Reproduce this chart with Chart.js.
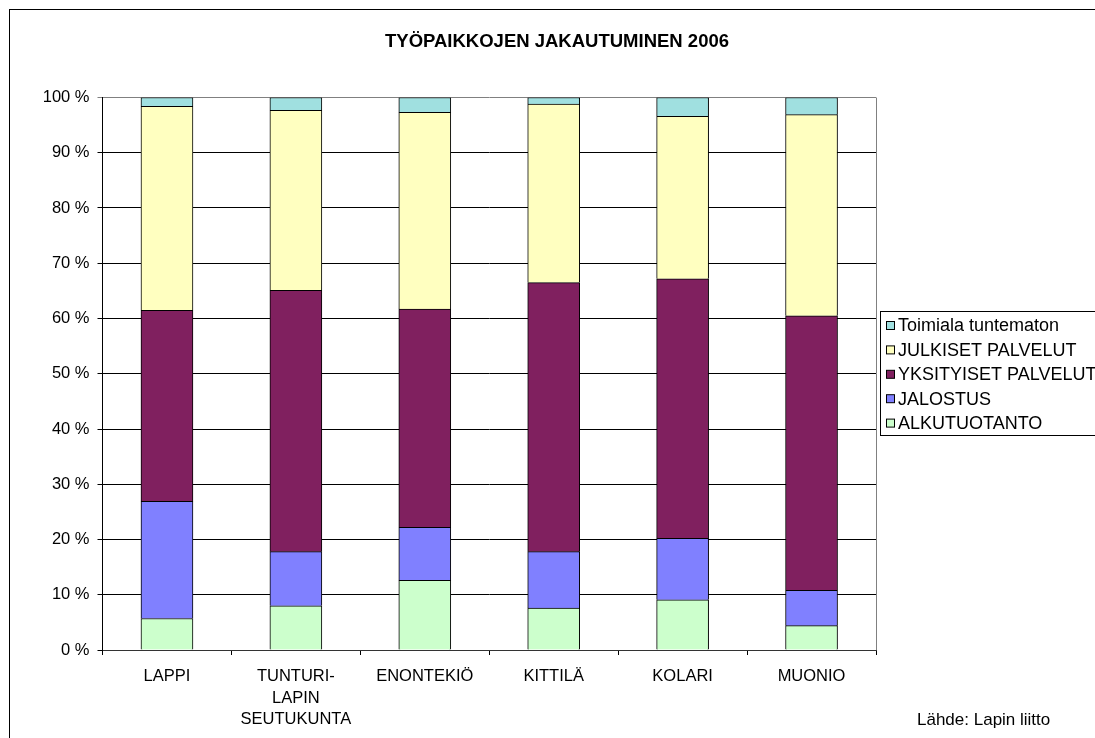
<!DOCTYPE html>
<html>
<head>
<meta charset="utf-8">
<script src="https://cdn.jsdelivr.net/npm/chart.js@4/dist/chart.umd.min.js"></script>
<style>
html,body{margin:0;padding:0;background:#fff;}
canvas{display:block;}
</style>
</head>
<body>
<canvas id="c" width="1095" height="738"></canvas>
<script>
const titleText = 'TYÖPAIKKOJEN JAKAUTUMINEN 2006';
const sourceText = 'Lähde: Lapin liitto';
const categories = ['LAPPI', ['TUNTURI-', 'LAPIN', 'SEUTUKUNTA'], 'ENONTEKIÖ', 'KITTILÄ', 'KOLARI', 'MUONIO'];
const alkutuotanto = [5.7, 8.0, 12.6, 7.6, 9.1, 4.4];
const jalostus = [21.2, 9.8, 9.6, 10.2, 11.1, 6.4];
const yksityiset = [34.6, 47.3, 39.5, 48.7, 47.0, 49.7];
const julkiset = [36.9, 32.6, 35.6, 32.3, 29.4, 36.4];
const toimiala = [1.6, 2.3, 2.7, 1.2, 3.4, 3.1];
const seriesNames = ['ALKUTUOTANTO', 'JALOSTUS', 'YKSITYISET PALVELUT', 'JULKISET PALVELUT', 'Toimiala tuntematon'];
const seriesColors = ['#CCFFCC', '#8080FF', '#80205F', '#FFFFC0', '#A0E0E0'];
const seriesData = [alkutuotanto, jalostus, yksityiset, julkiset, toimiala];

const FONT = "'Liberation Sans', Arial, sans-serif";
Chart.defaults.font.family = FONT;
Chart.defaults.font.size = 16.5;
Chart.defaults.color = '#000';

const decor = {
  id: 'decor',
  beforeDraw(chart) {
    const ctx = chart.ctx;
    ctx.save();
    ctx.fillStyle = '#fff';
    ctx.fillRect(0, 0, chart.width, chart.height);
    ctx.strokeStyle = '#000';
    ctx.lineWidth = 1;
    ctx.strokeRect(9.5, 9.5, 1200, 1000);
    ctx.restore();
  },
  beforeDatasetsDraw(chart) {
    const ctx = chart.ctx, a = chart.chartArea;
    ctx.save();
    ctx.strokeStyle = '#808080';
    ctx.lineWidth = 1;
    ctx.beginPath();
    ctx.moveTo(Math.round(a.right) + 0.5, a.top);
    ctx.lineTo(Math.round(a.right) + 0.5, a.bottom);
    ctx.stroke();
    ctx.restore();
  },
  afterDraw(chart) {
    const ctx = chart.ctx;
    ctx.save();
    ctx.fillStyle = '#000';
    ctx.textBaseline = 'middle';
    ctx.textAlign = 'center';
    ctx.font = 'bold 18.5px ' + FONT;
    ctx.fillText(titleText, 557, 42);
    ctx.font = '17px ' + FONT;
    ctx.textAlign = 'left';
    ctx.fillText(sourceText, 917, 720);
    // legend
    ctx.strokeStyle = '#000';
    ctx.lineWidth = 1;
    ctx.strokeRect(880.5, 311.5, 300, 124);
    const ds = chart.data.datasets;
    for (let i = 0; i < ds.length; i++) {
      const d = ds[ds.length - 1 - i];
      const y = 325.5 + i * 24.4;
      ctx.fillStyle = d.backgroundColor;
      ctx.fillRect(886.5, y - 4, 8, 8);
      ctx.strokeRect(886.5, y - 4, 8, 8);
      ctx.fillStyle = '#000';
      ctx.font = '18px ' + FONT;
      ctx.fillText(d.label, 898, y + 1);
    }
    ctx.restore();
  }
};

new Chart(document.getElementById('c'), {
  type: 'bar',
  data: {
    labels: categories,
    datasets: seriesData.map((d, i) => ({
      label: seriesNames[i],
      data: d,
      backgroundColor: seriesColors[i],
      borderColor: '#000',
      borderWidth: 1,
      barThickness: 52
    }))
  },
  options: {
    responsive: false,
    animation: false,
    devicePixelRatio: 1,
    layout: { padding: { left: 0, right: 219, top: 97.5, bottom: 0 } },
    plugins: { legend: { display: false }, title: { display: false }, tooltip: { enabled: false } },
    scales: {
      x: {
        stacked: true,
        grid: { display: true, drawOnChartArea: false, offset: true, tickLength: 5, color: '#000' },
        border: { color: '#333' },
        ticks: { padding: 11, maxRotation: 0, autoSkip: false, font: { size: 16.5, lineHeight: 1.3 } },
        afterFit(s) { s.height = 88; }
      },
      y: {
        stacked: true,
        min: 0, max: 100,
        grid: { color: c => (c.tick && c.tick.value === 100) ? '#808080' : '#000', tickLength: 5 },
        border: { color: '#000' },
        ticks: { stepSize: 10, padding: 8, callback: v => v + ' %', font: { size: 16.5 } },
        afterFit(s) { s.width = 102.5; }
      }
    }
  },
  plugins: [decor]
});
</script>
</body>
</html>
